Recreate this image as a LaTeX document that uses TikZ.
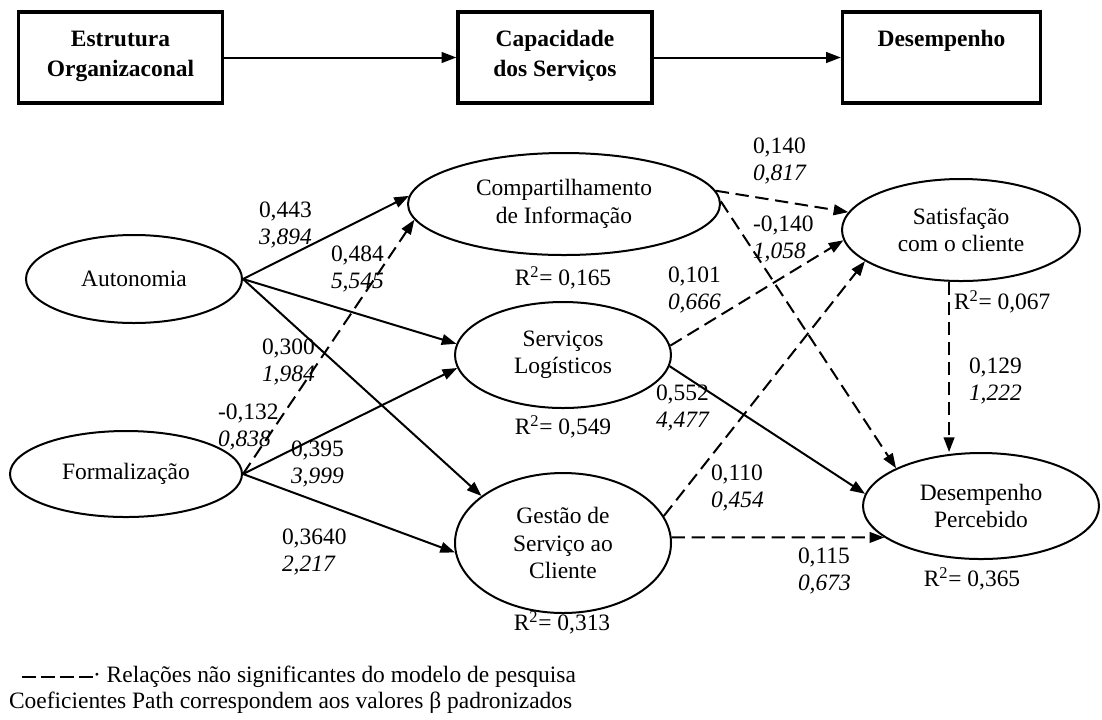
\documentclass[tikz,border=0pt]{standalone}
\usepackage{fontspec}
\setmainfont{Liberation Serif}
\usetikzlibrary{shapes.geometric,arrows.meta}

\begin{document}
\begin{tikzpicture}[x=0.75pt,y=-0.75pt,font=\fontsize{17.6}{20.5}\selectfont,
  line width=1.5pt,>={Triangle[length=11pt,width=8pt]}]
  \useasboundingbox (0,0) rectangle (1102,719);
  \tikzstyle{Stage}=[draw,rectangle,line width=2.5pt,inner sep=0pt]
  \tikzstyle{Construct}=[draw,ellipse,inner sep=0pt,align=center]
  \tikzstyle{Path}=[->]
  \tikzstyle{NonSig}=[->,dash pattern=on 10pt off 5pt]
  \tikzstyle{Coef}=[anchor=west,align=left,inner sep=0pt]
  \tikzstyle{RSq}=[inner sep=0pt]

  \node[Stage] (org) at (120.5,57.5) {\parbox[c][68.25pt][t]{153pt}{\centering\bfseries\rule{0pt}{26pt}Estrutura\\[1.5pt]Organizaconal}};
  \node[Stage] (cap) at (555,57.5) {\parbox[c][68.25pt][t]{145.5pt}{\centering\bfseries\rule{0pt}{26pt}Capacidade\\[1.5pt]dos Serviços}};
  \node[Stage] (perf) at (941.5,57.5) {\parbox[c][68.25pt][t]{148.5pt}{\centering\bfseries\rule{0pt}{26pt}Desempenho}};
  \draw[Path] (org) -- (cap);
  \draw[Path] (cap) -- (perf);

  \node[Construct,minimum width=162pt,minimum height=66pt] (auto) at (134,279) {Autonomia};
  \node[Construct,minimum width=174pt,minimum height=64.5pt] (form) at (126,474) {Formalização};
  \node[Construct,minimum width=234pt,minimum height=76.5pt] (comp) at (564,204) {Compartilhamento\\de Informação};
  \node[Construct,minimum width=162pt,minimum height=79.5pt] (serv) at (563,355) {Serviços\\Logísticos};
  \node[Construct,minimum width=162pt,minimum height=105pt] (gest) at (563,543) {Gestão de\\Serviço ao\\Cliente};
  \node[Construct,minimum width=178.5pt,minimum height=76.5pt] (sat) at (961,230) {Satisfação\\com o cliente};
  \node[Construct,minimum width=177pt,minimum height=79.5pt] (des) at (981,506) {Desempenho\\Percebido};

  \draw[Path] (auto.east) -- (comp.177);
  \draw[Path] (auto.east) -- (serv.174);
  \draw[Path] (auto.east) -- (gest.150);
  \draw[NonSig] (form.east) -- (comp.186);
  \draw[Path] (form.east) -- (serv.187);
  \draw[Path] (form.east) -- (gest.185);
  \draw[NonSig] (comp.5) -- (sat.171);
  \draw[NonSig] (comp.1) -- (des.156);
  \draw[NonSig] (serv.5) -- (sat.185);
  \draw[Path] (serv.-6) -- (des.174);
  \draw[NonSig] (gest.15) -- (sat.198);
  \draw[NonSig] (gest.3) -- (des.198);
  \draw[NonSig] (sat.257) -- (sat.257 |- des.north);

  \node[Coef] (c1) at (258,225) {0,443\\\textit{3,894}};
  \node[Coef] (c2) at (330,269) {0,484\\\textit{5,545}};
  \node[Coef] (c3) at (261,362) {0,300\\\textit{1,984}};
  \node[Coef] (c4) at (217,427) {-0,132\\\textit{0,838}};
  \node[Coef] (c5) at (290,464) {0,395\\\textit{3,999}};
  \node[Coef] (c6) at (281,552) {0,3640\\\textit{2,217}};
  \node[Coef] (c7) at (752,161) {0,140\\\textit{0,817}};
  \node[Coef] (c8) at (752,239) {-0,140\\\textit{1,058}};
  \node[Coef] (c9) at (667,290) {0,101\\\textit{0,666}};
  \node[Coef] (c10) at (655,408) {0,552\\\textit{4,477}};
  \node[Coef] (c11) at (710,488) {0,110\\\textit{0,454}};
  \node[Coef] (c12) at (797,571) {0,115\\\textit{0,673}};
  \node[Coef] (c13) at (968,381) {0,129\\\textit{1,222}};

  \node[RSq] (r1) at (563,278) {R\textsuperscript{2}= 0,165};
  \node[RSq] (r2) at (563,427) {R\textsuperscript{2}= 0,549};
  \node[RSq] (r3) at (562,623) {R\textsuperscript{2}= 0,313};
  \node[RSq,anchor=west] (r4) at (953,302) {R\textsuperscript{2}= 0,067};
  \node[RSq] (r5) at (972,579) {R\textsuperscript{2}= 0,365};

  \coordinate (k1) at (22,677);
  \coordinate (k2) at (94,677);
  \draw[dash pattern=on 10.5pt off 3.75pt] (k1) -- (k2);
  \node[anchor=west,inner sep=0pt] (key) at (92,677) {· Relações não significantes do modelo de pesquisa};
  \node[anchor=west,inner sep=0pt] (note) at (8,703) {Coeficientes Path correspondem aos valores β padronizados};
\end{tikzpicture}
\end{document}
